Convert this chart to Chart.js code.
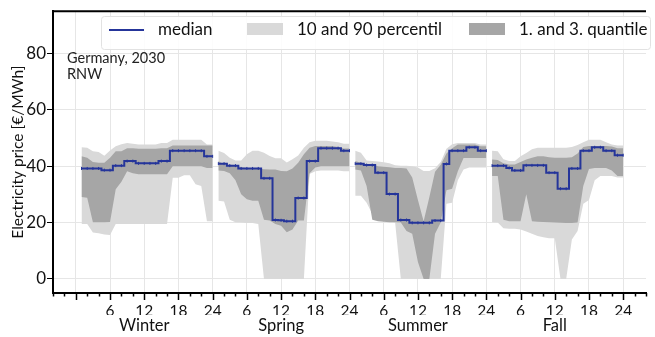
<!DOCTYPE html>
<html>
<head>
<meta charset="utf-8">
<script src="https://cdn.jsdelivr.net/npm/chart.js@4.4.0/dist/chart.umd.min.js"></script>
<style>
  html, body { margin: 0; padding: 0; background: #fff; }
</style>
</head>
<body>
<canvas id="canvas" width="655" height="337"></canvas>
<script>
// hours of the day, one value per hour and season
const hours = [1, 2, 3, 4, 5, 6, 7, 8, 9, 10, 11, 12, 13, 14, 15, 16, 17, 18, 19, 20, 21, 22, 23, 24];
const seasons = ['Winter', 'Spring', 'Summer', 'Fall'];
const hourLabels = ['6', '12', '18', '24'];
const yTicks = [0, 20, 40, 60, 80];
const noteLines = ['Germany, 2030', 'RNW'];

// order of inner arrays: Winter, Spring, Summer, Fall
const p10 = [
  [19.5, 19.5, 16.5, 16.2, 15.8, 15.6, 19.5, 19.5, 19.5, 19.5, 19.5, 19.5, 19.5, 19.5, 19.5, 19.5, 35.9, 35.9, 36.8, 36.8, 33.6, 33.0, 20.5, 20.5],
  [27.7, 27.5, 21.0, 20.1, 20.0, 19.8, 19.8, 19.5, 0, 0, 0, 0, 0, 0, 0, 0, 37.2, 38.2, 38.5, 38.5, 38.5, 38.5, 38.2, 38.2],
  [29.5, 29.5, 27.0, 23.0, 23.0, 22.0, 20.5, 20.0, 0, 0, 0, 0, 0, 0, 0, 0, 26.7, 27.0, 35.0, 38.8, 39.5, 39.5, 39.5, 39.5],
  [20.1, 20.0, 18.0, 17.8, 17.8, 17.5, 16.8, 16.0, 15.2, 14.8, 14.4, 14.4, 0, 0, 14.0, 17.0, 26.7, 28.0, 35.0, 36.5, 36.5, 36.5, 36.0, 36.0]
];
const q25 = [
  [29.1, 28.8, 20.1, 20.1, 20.1, 20.2, 31.8, 34.5, 38.2, 37.5, 37.1, 37.1, 37.1, 37.1, 37.1, 37.1, 40.0, 40.0, 40.0, 40.0, 40.0, 40.0, 39.4, 39.4],
  [38.5, 38.3, 37.5, 35.0, 30.0, 28.3, 27.7, 27.7, 21.0, 20.7, 19.5, 18.9, 16.6, 17.5, 20.7, 20.7, 37.5, 39.5, 40.0, 40.0, 40.0, 40.0, 40.0, 40.0],
  [38.8, 38.5, 33.0, 21.0, 20.5, 20.3, 20.1, 20.1, 20.0, 17.0, 16.0, 6.0, 0, 0, 16.0, 20.0, 31.5, 32.0, 38.2, 42.9, 42.9, 42.9, 42.9, 42.9],
  [36.5, 36.5, 21.0, 20.5, 20.5, 20.5, 30.0, 20.5, 20.3, 20.2, 20.1, 20.0, 19.9, 19.8, 19.8, 20.0, 33.0, 39.0, 39.4, 39.4, 39.4, 38.5, 36.5, 36.5]
];
const median = [
  [39.2, 39.2, 39.2, 39.2, 38.6, 38.6, 40.2, 40.2, 41.8, 41.8, 41.0, 41.0, 41.0, 41.0, 41.8, 41.8, 45.5, 45.5, 45.5, 45.5, 45.5, 45.5, 43.5, 43.5],
  [40.9, 40.9, 40.2, 40.2, 39.2, 39.2, 39.2, 39.2, 35.7, 35.7, 20.9, 20.8, 20.5, 20.5, 28.7, 28.7, 41.8, 41.8, 46.4, 46.4, 46.4, 46.4, 45.5, 45.5],
  [40.9, 40.9, 40.4, 40.4, 37.7, 37.7, 30.1, 30.1, 20.9, 20.9, 19.9, 19.9, 19.9, 19.9, 20.7, 20.7, 40.8, 45.5, 45.5, 45.5, 46.7, 46.7, 45.5, 45.5],
  [40.2, 40.2, 40.2, 39.4, 38.5, 38.5, 40.3, 40.3, 40.3, 40.3, 37.7, 37.7, 32.0, 32.0, 39.2, 39.2, 45.5, 45.5, 46.7, 46.7, 45.5, 45.5, 43.9, 43.9]
];
const q75 = [
  [43.5, 43.0, 41.5, 41.2, 41.2, 43.0, 45.3, 45.3, 46.4, 46.4, 46.2, 46.2, 46.2, 46.2, 46.4, 46.4, 47.3, 47.3, 47.3, 47.3, 47.3, 47.3, 47.3, 47.3],
  [41.8, 40.5, 40.5, 40.4, 39.6, 39.4, 39.2, 39.2, 38.9, 38.8, 38.8, 38.3, 38.2, 39.2, 41.2, 44.2, 46.5, 47.2, 47.2, 47.2, 47.2, 46.8, 46.3, 46.3],
  [41.8, 41.2, 40.7, 40.6, 40.0, 39.8, 39.6, 39.4, 39.4, 39.2, 36.0, 28.0, 20.5, 29.0, 38.0, 40.5, 44.5, 46.4, 47.7, 47.7, 47.7, 47.7, 47.1, 47.1],
  [42.4, 42.2, 41.0, 40.6, 40.6, 41.5, 42.4, 43.0, 43.5, 43.5, 43.2, 43.0, 43.0, 43.0, 43.2, 44.5, 46.8, 47.2, 47.2, 47.2, 47.2, 47.0, 46.4, 46.4]
];
const p90 = [
  [46.7, 46.5, 45.3, 45.0, 43.7, 45.6, 47.1, 47.8, 48.2, 48.0, 47.7, 47.7, 47.7, 47.7, 48.2, 48.2, 49.4, 49.4, 49.4, 49.4, 49.4, 49.4, 47.7, 47.7],
  [45.5, 44.7, 43.0, 42.0, 42.0, 44.2, 45.5, 45.5, 44.8, 43.6, 42.8, 42.8, 41.3, 42.5, 43.8, 46.5, 48.5, 49.0, 49.0, 49.0, 48.8, 48.5, 48.0, 48.0],
  [45.5, 44.8, 42.0, 41.8, 41.7, 41.4, 41.0, 40.3, 40.2, 40.2, 40.0, 39.5, 38.3, 38.3, 39.3, 41.5, 46.2, 47.8, 48.2, 48.2, 48.2, 48.2, 47.7, 47.7],
  [45.5, 45.3, 42.5, 41.8, 41.8, 43.5, 44.7, 46.0, 46.5, 46.5, 46.5, 46.5, 46.5, 46.5, 46.8, 47.5, 48.5, 49.4, 49.4, 49.4, 48.5, 47.7, 47.3, 47.3]
];

const BLUE = '#25359a';
const LIGHT = '#d9d9d9';
const DARK = '#a6a6a6';
const FONT = 'Lato, "Open Sans", sans-serif';

// seasons are laid one after the other on a continuous hour axis, with a break between them
function toPoints(perSeason) {
  const pts = [];
  perSeason.forEach((vals, s) => {
    vals.forEach((v, i) => pts.push({ x: s * 24 + hours[i], y: v }));
    pts.push({ x: s * 24 + 24.5, y: null });
  });
  return pts;
}

const xTicks = [];
for (let v = -4; v <= 100; v += 2) xTicks.push(v);

// axis tick marks (long every 6 h), top frame line, note text
const decorPlugin = {
  id: 'decor',
  afterDraw(chart) {
    const ctx = chart.ctx;
    const area = chart.chartArea;
    const xs = chart.scales.x;
    ctx.save();
    ctx.strokeStyle = '#000';
    ctx.lineWidth = 1.5;
    xs.ticks.forEach(t => {
      const px = Math.round(xs.getPixelForValue(t.value)) + 0.5;
      const len = t.value % 6 === 0 ? 7 : 3.5;
      ctx.beginPath();
      ctx.moveTo(px, area.bottom);
      ctx.lineTo(px, area.bottom + len);
      ctx.stroke();
    });
    ctx.lineWidth = 2;
    ctx.beginPath();
    ctx.moveTo(area.left, area.top);
    ctx.lineTo(area.right, area.top);
    ctx.stroke();

    ctx.fillStyle = '#222';
    ctx.font = '14.5px ' + FONT;
    ctx.textBaseline = 'alphabetic';
    ctx.textAlign = 'left';
    noteLines.forEach((t, i) => ctx.fillText(t, 67, 63 + i * 15.5));
    ctx.restore();
  }
};

// legend box inside the plot, on top
const legendPlugin = {
  id: 'boxLegend',
  afterDraw(chart) {
    const ctx = chart.ctx;
    const ds = chart.data.datasets;
    ctx.save();
    ctx.fillStyle = 'rgba(255,255,255,0.85)';
    ctx.strokeStyle = '#e2e2e2';
    ctx.lineWidth = 1;
    ctx.beginPath();
    ctx.roundRect(101.5, 16.5, 549, 33, 3);
    ctx.fill();
    ctx.stroke();

    const cy = 30;
    // median sample
    ctx.strokeStyle = ds[0].borderColor;
    ctx.lineWidth = 2;
    ctx.beginPath();
    ctx.moveTo(109, cy);
    ctx.lineTo(144, cy);
    ctx.stroke();
    ctx.fillStyle = ds[3].backgroundColor;
    ctx.fillRect(247, 23, 36, 12);
    ctx.fillStyle = ds[1].backgroundColor;
    ctx.fillRect(469, 23, 36, 12);

    ctx.fillStyle = '#111';
    ctx.font = '17px ' + FONT;
    ctx.textBaseline = 'middle';
    ctx.textAlign = 'left';
    ctx.fillText(ds[0].label, 158, cy);
    ctx.fillText(ds[3].label, 297, cy);
    ctx.fillText(ds[1].label, 519, cy);
    ctx.restore();
  }
};

const ctx = document.getElementById('canvas').getContext('2d');
const chart = new Chart(ctx, {
  type: 'line',
  data: {
    datasets: [
      {
        label: 'median',
        data: toPoints(median),
        borderColor: BLUE,
        borderWidth: 2,
        stepped: 'middle',
        pointStyle: 'line',
        rotation: 90,
        pointRadius: 1.5,
        pointBorderWidth: 1,
        pointBorderColor: BLUE,
        fill: false,
        spanGaps: false,
        order: 0,
      },
      {
        label: '1. and 3. quantile',
        data: toPoints(q75),
        borderWidth: 0,
        pointRadius: 0,
        backgroundColor: DARK,
        fill: '+1',
        spanGaps: false,
        order: 1,
      },
      {
        label: 'q25',
        data: toPoints(q25),
        borderWidth: 0,
        pointRadius: 0,
        fill: false,
        spanGaps: false,
        order: 2,
      },
      {
        label: '10 and 90 percentil',
        data: toPoints(p90),
        borderWidth: 0,
        pointRadius: 0,
        backgroundColor: LIGHT,
        fill: '+1',
        spanGaps: false,
        order: 3,
      },
      {
        label: 'p10',
        data: toPoints(p10),
        borderWidth: 0,
        pointRadius: 0,
        fill: false,
        spanGaps: false,
        order: 4,
      }
    ]
  },
  options: {
    responsive: false,
    animation: false,
    layout: { padding: { top: 7, right: 0, left: 0, bottom: 0 } },
    plugins: {
      legend: { display: false },
      tooltip: { enabled: false },
    },
    scales: {
      x: {
        type: 'linear',
        position: 'bottom',
        min: -4,
        max: 100,
        afterBuildTicks: s => { s.ticks = xTicks.map(v => ({ value: v })); },
        afterFit: s => { s.height = 22; },
        grid: {
          color: c => (c.tick && c.tick.value % 6 === 0 && c.tick.value >= 0 && c.tick.value <= 96) ? '#e6e6e6' : 'rgba(0,0,0,0)',
          drawTicks: false,
        },
        border: { color: '#000', width: 2 },
        ticks: {
          autoSkip: false,
          maxRotation: 0,
          padding: 9,
          color: '#111',
          font: { size: 15.5, family: FONT },
          callback: v => (v > 0 && v <= 96 && v % 6 === 0) ? hourLabels[((v - 1) % 24 - 5) / 6 | 0] : '',
        }
      },
      season: {
        type: 'linear',
        position: 'bottom',
        min: -4,
        max: 100,
        afterBuildTicks: s => { s.ticks = seasons.map((n, i) => ({ value: 12 + 24 * i })); },
        afterFit: s => { s.height = 22; },
        grid: { display: false, drawTicks: false },
        border: { display: false },
        ticks: {
          autoSkip: false,
          maxRotation: 0,
          padding: 1,
          color: '#111',
          font: { size: 16.5, family: FONT },
          callback: (v, i) => seasons[i],
        }
      },
      y: {
        min: -5,
        max: 95,
        afterBuildTicks: s => { s.ticks = yTicks.map(v => ({ value: v })); },
        afterFit: s => { s.width = 53; },
        grid: { color: '#e6e6e6', tickColor: '#000', tickLength: 6 },
        border: { color: '#000', width: 2 },
        ticks: { padding: 1, color: '#111', font: { size: 17, family: FONT } },
        title: {
          display: true,
          text: 'Electricity price [€/MWh]',
          color: '#111',
          font: { size: 15.5, family: FONT },
          padding: { top: 9, bottom: 0 },
        }
      }
    }
  },
  plugins: [decorPlugin, legendPlugin]
});
</script>
</body>
</html>
